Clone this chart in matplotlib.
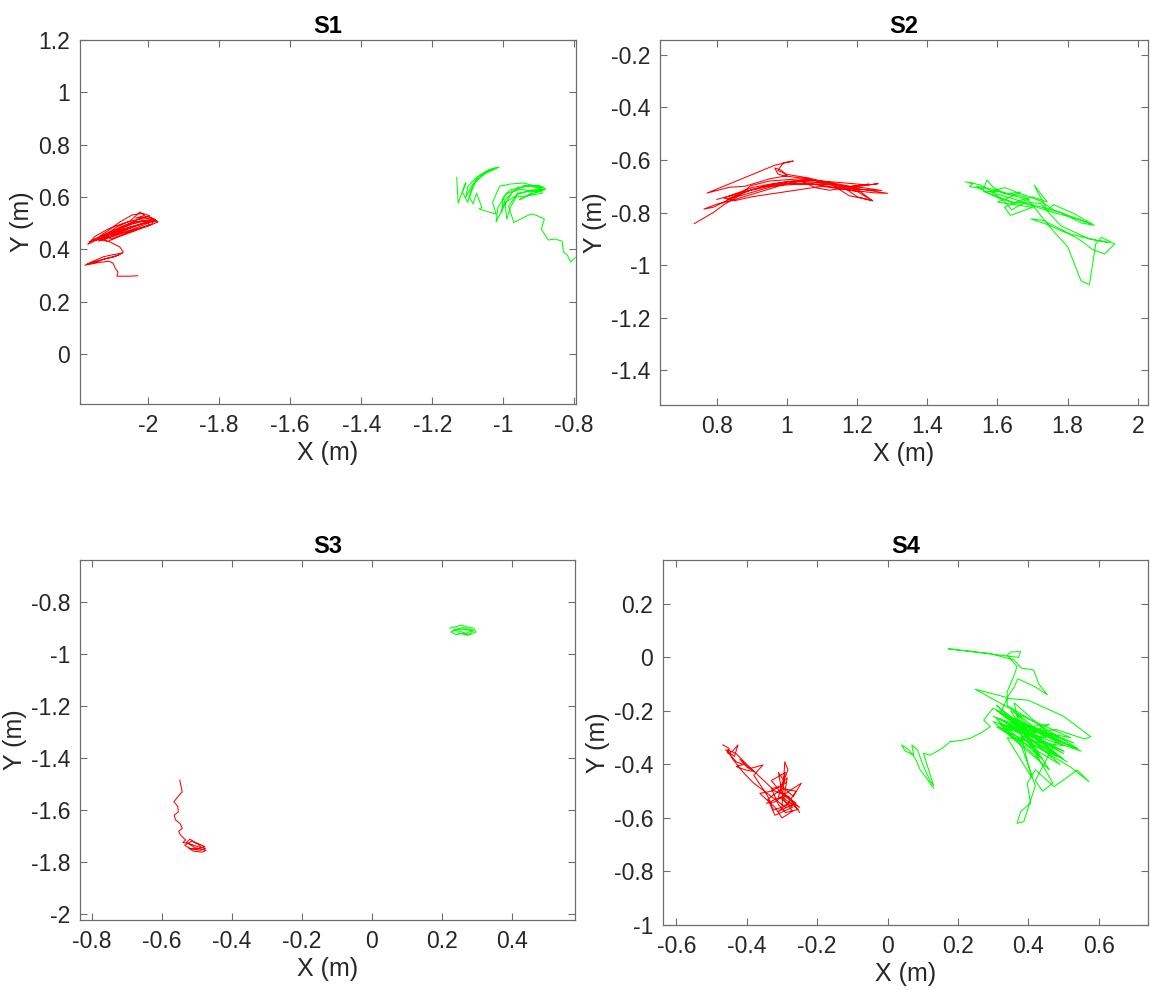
import matplotlib
matplotlib.use("Agg")
import matplotlib.pyplot as plt
from matplotlib.ticker import FuncFormatter

plt.rcParams["font.family"] = ["Liberation Sans", "DejaVu Sans"]
plt.rcParams["axes.unicode_minus"] = False

# S1
s1_red_x = [-2.030, -2.050, -2.088, -2.085, -2.093, -2.099, -2.110, -2.140, -2.178, -2.160,
            -2.127, -2.100, -2.073, -2.095, -2.135, -2.170, -2.150, -2.120, -2.085, -2.070,
            -2.080, -2.110, -2.140, -2.170, -2.150, -2.110, -2.070, -2.030, -1.990, -1.972,
            -2.000, -2.040, -2.080, -2.116, -2.130, -2.100, -2.060, -2.020, -1.985, -1.990,
            -2.030, -2.070, -2.105, -2.120, -2.090, -2.050, -2.023, -2.010, -2.035, -2.000,
            -1.980, -2.010, -2.050, -2.095, -2.125, -2.110, -2.075, -2.040, -2.005, -1.995,
            -2.030, -2.070, -2.110, -2.140, -2.120, -2.085, -2.045, -2.000, -1.975, -2.010,
            -2.060, -2.100, -2.150, -2.165, -2.140, -2.100, -2.060, -2.020, -1.995, -2.015,
            -2.045, -2.080, -2.115, -2.135, -2.100, -2.060, -2.015, -1.985, -2.000, -2.045,
            -2.090, -2.125, -2.150, -2.130, -2.090, -2.050, -2.010, -1.980]
s1_red_y = [0.300, 0.298, 0.298, 0.314, 0.329, 0.348, 0.355, 0.350, 0.340, 0.352,
            0.372, 0.380, 0.386, 0.372, 0.360, 0.345, 0.350, 0.365, 0.378, 0.390,
            0.410, 0.430, 0.440, 0.420, 0.450, 0.480, 0.500, 0.515, 0.520, 0.505,
            0.490, 0.470, 0.450, 0.430, 0.445, 0.470, 0.492, 0.510, 0.512, 0.497,
            0.478, 0.458, 0.440, 0.455, 0.485, 0.510, 0.543, 0.530, 0.520, 0.525,
            0.515, 0.495, 0.475, 0.455, 0.438, 0.462, 0.487, 0.505, 0.508, 0.492,
            0.480, 0.463, 0.445, 0.432, 0.450, 0.475, 0.497, 0.513, 0.508, 0.500,
            0.482, 0.465, 0.440, 0.428, 0.447, 0.472, 0.495, 0.520, 0.528, 0.538,
            0.532, 0.505, 0.470, 0.452, 0.458, 0.478, 0.500, 0.518, 0.505, 0.488,
            0.468, 0.448, 0.435, 0.440, 0.460, 0.482, 0.502, 0.512]
s1_green_x = [-1.131, -1.127, -1.118, -1.105, -1.115, -1.100, -1.090, -1.075, -1.050, -1.011,
              -1.040, -1.070, -1.090, -1.105, -1.100, -1.080, -1.050, -1.020,
              -1.045, -1.080, -1.095, -1.085, -1.075, -1.060, -1.068, -1.045, -1.020, -1.030,
              -1.010, -0.980, -0.943, -0.905, -0.884, -0.910, -0.950, -0.990, -1.015, -1.020,
              -1.000, -0.975, -0.940, -0.900, -0.890, -0.930, -0.970, -0.995, -0.990, -0.980,
              -0.960, -0.920, -0.895, -0.920, -0.955, -0.940, -0.910, -0.880, -0.900, -0.940,
              -0.980, -1.000, -1.005, -0.995, -0.960, -0.920, -0.890, -0.915, -0.960, -0.985,
              -0.970, -0.945, -0.922, -0.905, -0.884,
              -0.893, -0.873, -0.855, -0.834, -0.830, -0.820, -0.810, -0.797]
s1_green_y = [0.675, 0.577, 0.610, 0.655, 0.620, 0.580, 0.630, 0.665, 0.690, 0.715,
              0.705, 0.680, 0.640, 0.600, 0.640, 0.670, 0.695, 0.712,
              0.700, 0.655, 0.600, 0.575, 0.615, 0.560, 0.555, 0.545, 0.535, 0.580,
              0.642, 0.650, 0.654, 0.640, 0.627, 0.620, 0.630, 0.615, 0.560, 0.505,
              0.560, 0.620, 0.645, 0.635, 0.615, 0.605, 0.600, 0.580, 0.516, 0.560,
              0.610, 0.628, 0.622, 0.612, 0.590, 0.600, 0.625, 0.632, 0.645, 0.640,
              0.628, 0.600, 0.540, 0.590, 0.635, 0.645, 0.638, 0.625, 0.615, 0.565,
              0.503, 0.520, 0.536, 0.530, 0.516,
              0.478, 0.436, 0.440, 0.432, 0.390, 0.380, 0.352, 0.370]

# S2
s2_red_x = [0.736, 0.790, 0.820, 0.840, 0.870, 0.900, 0.950, 1.000, 1.050, 1.080,
            1.120, 1.157, 1.200, 1.244, 1.200, 1.160, 1.234, 1.180, 1.120, 1.050,
            0.990, 0.974, 0.965, 0.985, 1.000, 0.950, 0.880, 0.835, 0.772, 0.965,
            1.018, 0.990, 0.974, 1.000, 1.060, 1.120, 1.160, 1.287, 1.250, 1.180,
            1.100, 0.900, 0.850, 0.820, 0.860, 0.900, 0.960, 1.020, 1.100, 1.160,
            1.200, 1.244, 1.210, 1.177, 1.130, 1.000, 0.840, 0.800, 0.763, 0.790,
            0.820, 0.860, 0.897, 0.950, 1.030, 1.100, 1.230, 1.260, 1.180, 1.120,
            1.080, 1.040, 0.960, 0.870, 0.830, 0.880, 0.990, 1.090, 1.150, 1.220,
            1.270, 1.200, 1.140, 1.060, 0.940, 0.860, 0.800]
s2_red_y = [-0.842, -0.800, -0.770, -0.755, -0.730, -0.712, -0.695, -0.682, -0.678, -0.678,
            -0.690, -0.710, -0.720, -0.755, -0.712, -0.705, -0.692, -0.700, -0.685, -0.670,
            -0.660, -0.653, -0.630, -0.640, -0.660, -0.672, -0.700, -0.704, -0.726, -0.620,
            -0.604, -0.610, -0.640, -0.655, -0.668, -0.688, -0.700, -0.727, -0.725, -0.715,
            -0.700, -0.740, -0.755, -0.745, -0.725, -0.705, -0.690, -0.680, -0.685, -0.703,
            -0.740, -0.755, -0.745, -0.736, -0.695, -0.690, -0.755, -0.768, -0.787, -0.780,
            -0.760, -0.735, -0.698, -0.680, -0.672, -0.680, -0.695, -0.690, -0.705, -0.715,
            -0.705, -0.680, -0.700, -0.735, -0.748, -0.720, -0.688, -0.688, -0.698, -0.706,
            -0.716, -0.712, -0.705, -0.690, -0.700, -0.728, -0.750]
s2_green_x = [1.508, 1.530, 1.520, 1.560, 1.570, 1.585, 1.620, 1.666, 1.630, 1.600,
              1.650, 1.700, 1.637, 1.620, 1.660, 1.700, 1.742, 1.704, 1.730, 1.742,
              1.760, 1.819, 1.876, 1.840, 1.780, 1.700, 1.640, 1.600, 1.560, 1.600,
              1.680, 1.762, 1.800, 1.838, 1.862, 1.880, 1.896, 1.934, 1.905, 1.870,
              1.838, 1.790, 1.730, 1.695, 1.740, 1.800, 1.880, 1.920, 1.860, 1.780,
              1.723, 1.680, 1.640, 1.618, 1.580, 1.540, 1.560, 1.600, 1.640, 1.690,
              1.650, 1.610, 1.580, 1.620, 1.670, 1.720, 1.760, 1.820, 1.870, 1.830,
              1.760, 1.700, 1.650, 1.600, 1.550, 1.520]
s2_green_y = [-0.683, -0.690, -0.700, -0.712, -0.676, -0.700, -0.730, -0.722, -0.745, -0.760,
              -0.770, -0.780, -0.811, -0.780, -0.755, -0.740, -0.760, -0.695, -0.760, -0.792,
              -0.770, -0.805, -0.849, -0.840, -0.800, -0.770, -0.760, -0.740, -0.720, -0.720,
              -0.740, -0.875, -0.930, -1.060, -1.075, -0.920, -0.894, -0.920, -0.958, -0.940,
              -0.907, -0.870, -0.830, -0.824, -0.845, -0.880, -0.905, -0.915, -0.900, -0.850,
              -0.766, -0.760, -0.790, -0.754, -0.730, -0.700, -0.705, -0.715, -0.735, -0.750,
              -0.765, -0.745, -0.720, -0.705, -0.730, -0.755, -0.790, -0.820, -0.845, -0.825,
              -0.800, -0.775, -0.750, -0.730, -0.695, -0.685]

# S3
s3_red_x = [-0.549, -0.545, -0.542, -0.555, -0.566, -0.555, -0.553, -0.565, -0.561, -0.548,
            -0.542, -0.552, -0.547, -0.532, -0.540, -0.520, -0.500, -0.475, -0.490, -0.520,
            -0.535, -0.515, -0.495, -0.478, -0.500, -0.523, -0.510, -0.485, -0.474, -0.505,
            -0.530, -0.520, -0.505, -0.490]
s3_red_y = [-1.485, -1.510, -1.530, -1.550, -1.568, -1.585, -1.607, -1.620, -1.638, -1.652,
            -1.670, -1.682, -1.696, -1.715, -1.725, -1.730, -1.740, -1.747, -1.755, -1.748,
            -1.735, -1.720, -1.730, -1.740, -1.750, -1.747, -1.758, -1.762, -1.755, -1.745,
            -1.725, -1.712, -1.725, -1.738]
s3_green_x = [0.222, 0.240, 0.255, 0.270, 0.290, 0.297, 0.280, 0.260, 0.240, 0.225,
              0.245, 0.265, 0.285, 0.270, 0.250, 0.230, 0.260, 0.290, 0.275, 0.245]
s3_green_y = [-0.900, -0.895, -0.888, -0.895, -0.900, -0.915, -0.925, -0.920, -0.925, -0.915,
              -0.905, -0.905, -0.910, -0.920, -0.912, -0.908, -0.898, -0.908, -0.928, -0.918]

# S4
s4_red_x = [-0.468, -0.450, -0.454, -0.440, -0.425, -0.435, -0.460, -0.430, -0.410, -0.430,
            -0.405, -0.378, -0.400, -0.420, -0.390, -0.354, -0.380, -0.360, -0.340, -0.325,
            -0.300, -0.292, -0.283, -0.300, -0.268, -0.245, -0.280, -0.320, -0.344, -0.300,
            -0.254, -0.290, -0.310, -0.330, -0.306, -0.285, -0.295, -0.270, -0.300, -0.320,
            -0.363, -0.330, -0.290, -0.310, -0.300, -0.260, -0.310, -0.280, -0.250, -0.300,
            -0.330, -0.290, -0.310, -0.270, -0.320, -0.340, -0.300, -0.260, -0.290, -0.330,
            -0.380, -0.410, -0.440, -0.455, -0.430, -0.400, -0.360, -0.320, -0.280, -0.250]
s4_red_y = [-0.327, -0.340, -0.358, -0.350, -0.327, -0.370, -0.345, -0.390, -0.400, -0.408,
            -0.420, -0.427, -0.410, -0.380, -0.415, -0.402, -0.440, -0.480, -0.520, -0.570,
            -0.560, -0.390, -0.420, -0.480, -0.520, -0.470, -0.500, -0.540, -0.545, -0.520,
            -0.568, -0.580, -0.550, -0.490, -0.483, -0.450, -0.530, -0.575, -0.600, -0.560,
            -0.508, -0.500, -0.470, -0.430, -0.505, -0.545, -0.575, -0.540, -0.560, -0.510,
            -0.460, -0.430, -0.520, -0.560, -0.590, -0.530, -0.490, -0.500, -0.560, -0.520,
            -0.470, -0.430, -0.380, -0.345, -0.360, -0.400, -0.450, -0.500, -0.520, -0.580]
s4_green_x = [0.131, 0.110, 0.093, 0.080, 0.060, 0.040, 0.050, 0.074, 0.069, 0.085,
              0.100, 0.120, 0.131, 0.102, 0.120, 0.131, 0.155, 0.178, 0.210, 0.235,
              0.264, 0.292, 0.273, 0.300, 0.520, 0.310, 0.500, 0.320, 0.510, 0.330,
              0.470, 0.300, 0.540, 0.340, 0.340, 0.358, 0.368, 0.340, 0.350, 0.378,
              0.372, 0.173, 0.290, 0.360, 0.380, 0.415, 0.430, 0.454, 0.420, 0.370,
              0.360, 0.340, 0.249, 0.360, 0.450, 0.310, 0.490, 0.350, 0.530, 0.320,
              0.340, 0.400, 0.500, 0.577, 0.560, 0.480, 0.400, 0.360, 0.480, 0.330,
              0.460, 0.380, 0.520, 0.572, 0.539, 0.473, 0.420, 0.397, 0.406, 0.378,
              0.368, 0.387, 0.400, 0.420, 0.380, 0.350, 0.310, 0.440, 0.360, 0.500,
              0.420, 0.310, 0.500, 0.330, 0.550, 0.300, 0.460, 0.350, 0.520, 0.320,
              0.430, 0.380, 0.500, 0.340, 0.410, 0.390, 0.360, 0.480, 0.420, 0.440,
              0.470, 0.390]
s4_green_y = [-0.489, -0.450, -0.421, -0.380, -0.345, -0.327, -0.350, -0.364, -0.327, -0.345,
              -0.400, -0.460, -0.480, -0.358, -0.365, -0.358, -0.340, -0.315, -0.310, -0.302,
              -0.283, -0.259, -0.234, -0.190, -0.330, -0.200, -0.360, -0.230, -0.390, -0.250,
              -0.330, -0.220, -0.340, -0.180, -0.128, -0.072, -0.034, 0.009, 0.020, 0.022,
              0.000, 0.032, 0.015, -0.010, -0.040, -0.047, -0.100, -0.140, -0.110, -0.080,
              -0.110, -0.150, -0.119, -0.200, -0.300, -0.260, -0.400, -0.240, -0.320, -0.210,
              -0.153, -0.160, -0.220, -0.296, -0.305, -0.270, -0.280, -0.200, -0.370, -0.270,
              -0.250, -0.300, -0.410, -0.464, -0.421, -0.483, -0.420, -0.470, -0.545, -0.576,
              -0.620, -0.614, -0.560, -0.480, -0.330, -0.290, -0.230, -0.380, -0.260, -0.350,
              -0.300, -0.180, -0.380, -0.220, -0.350, -0.240, -0.420, -0.200, -0.300, -0.250,
              -0.380, -0.240, -0.330, -0.300, -0.450, -0.350, -0.170, -0.310, -0.460, -0.500,
              -0.470, -0.290]

W, H = 1151, 990
GRAY = "#262626"
FRAME = "#6e6e6e"


def fmt(v, pos):
    return f"{v:g}"


def Create_panel(fig, box, title, red, green, xlim, ylim, xticks, yticks):
    """
    Рисует одну панель с двумя траекториями.
    box: (left, top, right, bottom) в пикселях.
    """
    left, top, right, bottom = box
    ax = fig.add_axes([left / W, 1 - bottom / H, (right - left) / W, (bottom - top) / H])
    ax.plot(red[0], red[1], color="#ff0000", linewidth=0.75)
    ax.plot(green[0], green[1], color="#00ff00", linewidth=0.75)
    ax.set_xlim(xlim)
    ax.set_ylim(ylim)
    ax.set_xticks(xticks)
    ax.set_yticks(yticks)
    ax.xaxis.set_major_formatter(FuncFormatter(fmt))
    ax.yaxis.set_major_formatter(FuncFormatter(fmt))
    ax.tick_params(direction="in", top=True, right=True, length=5, width=0.8,
                   color=FRAME, labelcolor=GRAY, labelsize=16.5, pad=7)
    for sp in ax.spines.values():
        sp.set_color(FRAME)
        sp.set_linewidth(0.9)
    ax.set_title(title, fontsize=17, fontweight="bold", pad=5)
    ax.set_xlabel("X (m)", fontsize=18, color=GRAY, labelpad=3)
    ax.set_ylabel("Y (m)", fontsize=18, color=GRAY, labelpad=3)
    return ax


fig = plt.figure(figsize=(W / 100, H / 100), dpi=100)

Create_panel(fig, (80, 40, 576, 404), "S1",
             (s1_red_x, s1_red_y), (s1_green_x, s1_green_y),
             (-2.192, -0.795), (-0.19, 1.2),
             [-2, -1.8, -1.6, -1.4, -1.2, -1, -0.8],
             [0, 0.2, 0.4, 0.6, 0.8, 1, 1.2])
Create_panel(fig, (660, 40, 1148, 405), "S2",
             (s2_red_x, s2_red_y), (s2_green_x, s2_green_y),
             (0.638, 2.029), (-1.533, -0.143),
             [0.8, 1, 1.2, 1.4, 1.6, 1.8, 2],
             [-1.4, -1.2, -1, -0.8, -0.6, -0.4, -0.2])
Create_panel(fig, (80, 560, 575, 920), "S3",
             (s3_red_x, s3_red_y), (s3_green_x, s3_green_y),
             (-0.834, 0.58), (-2.023, -0.638),
             [-0.8, -0.6, -0.4, -0.2, 0, 0.2, 0.4],
             [-2, -1.8, -1.6, -1.4, -1.2, -1, -0.8])
Create_panel(fig, (663, 560, 1148, 925), "S4",
             (s4_red_x, s4_red_y), (s4_green_x, s4_green_y),
             (-0.638, 0.74), (-1.0, 0.364),
             [-0.6, -0.4, -0.2, 0, 0.2, 0.4, 0.6],
             [-1, -0.8, -0.6, -0.4, -0.2, 0, 0.2])

fig.savefig("out.png", dpi=100)
